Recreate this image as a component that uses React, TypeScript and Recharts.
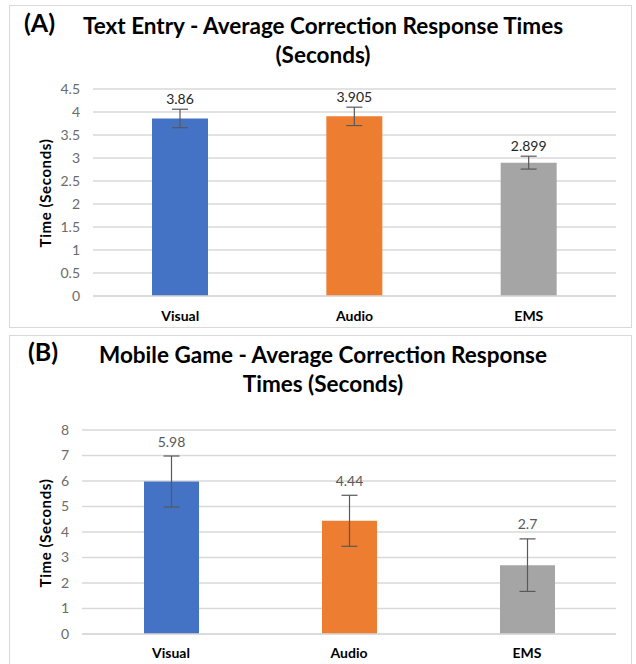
import { BarChart, Bar, XAxis, YAxis, CartesianGrid, Cell, ErrorBar, LabelList } from 'recharts';

const categories = ['Visual', 'Audio', 'EMS'];
const barColors = ['#4472C4', '#ED7D31', '#A5A5A5'];

const textEntryTimes = [3.86, 3.905, 2.899];
const textEntryErrors = [0.2, 0.2, 0.14];
const textEntryTicks = [0, 0.5, 1, 1.5, 2, 2.5, 3, 3.5, 4, 4.5];

const mobileGameTimes = [5.98, 4.44, 2.7];
const mobileGameErrors = [1.0, 1.0, 1.03];
const mobileGameTicks = [0, 1, 2, 3, 4, 5, 6, 7, 8];

const FONT = 'Lato, "Open Sans", sans-serif';

const textEntryData = categories.map((name, i) => ({ name, time: textEntryTimes[i], err: textEntryErrors[i] }));
const mobileGameData = categories.map((name, i) => ({ name, time: mobileGameTimes[i], err: mobileGameErrors[i] }));

// value label sits just above the error bar's top whisker
const makeLabel = (errors: number[], color: string, fontSize: number, gap: number) => (props: any) => {
  const { x, y, width, height, value, index } = props;
  const perUnit = height / value;
  const errTop = y - errors[index] * perUnit;
  return (
    <text x={x + width / 2} y={errTop - gap} textAnchor="middle" dominantBaseline="middle" fill={color} fontSize={fontSize} fontFamily={FONT}>
      {value}
    </text>
  );
};

type PanelProps = {
  top: number;
  height: number;
  data: { name: string; time: number; err: number }[];
  errors: number[];
  ticks: number[];
  domainMax: number;
  margin: { top: number; right: number; bottom: number; left: number };
  barSize: number;
  tag: string;
  tagLeft: number;
  titleLines: string[];
  titleTop: number;
  labelColor: string;
  labelGap: number;
  axisLabelY: number;
  tickMargin: number;
};

const Panel = (p: PanelProps) => (
  <div style={{ position: 'absolute', left: 0, top: p.top, width: 636, height: p.height }}>
    <div style={{ position: 'absolute', left: p.tagLeft, top: p.titleTop - 4, fontFamily: FONT, fontWeight: 700, fontSize: 25, color: '#000' }}>
      {p.tag}
    </div>
    <div style={{ position: 'absolute', left: 60, width: 526, top: p.titleTop, textAlign: 'center', fontFamily: FONT, fontWeight: 700, fontSize: 22.5, lineHeight: '29px', color: '#000' }}>
      {p.titleLines.map((t) => (
        <div key={t}>{t}</div>
      ))}
    </div>
    <div
      style={{
        position: 'absolute',
        left: 45,
        top: p.axisLabelY,
        transform: 'translate(-50%, -50%) rotate(-90deg)',
        whiteSpace: 'nowrap',
        fontFamily: FONT,
        fontWeight: 700,
        fontSize: 15,
        letterSpacing: 0.6,
        color: '#000',
      }}
    >
      Time (Seconds)
    </div>
    <div style={{ position: 'absolute', left: 0, top: 0 }}>
      <BarChart width={636} height={p.height} data={p.data} margin={p.margin} barSize={p.barSize}>
        <CartesianGrid vertical={false} stroke="#d9d9d9" strokeWidth={1.5} />
        <XAxis
          dataKey="name"
          tickLine={false}
          axisLine={{ stroke: '#d9d9d9', strokeWidth: 1.5 }}
          tickMargin={p.tickMargin}
          tick={{ fill: '#000', fontSize: 14, fontWeight: 700, fontFamily: FONT }}
          height={30}
        />
        <YAxis
          domain={[0, p.domainMax]}
          ticks={p.ticks}
          interval={0}
          width={50}
          axisLine={false}
          tickLine={false}
          tickMargin={7}
          tick={{ fill: '#6b6b6b', fontSize: 14, fontFamily: FONT }}
        />
        <Bar dataKey="time" isAnimationActive={false}>
          {p.data.map((d, i) => (
            <Cell key={d.name} fill={barColors[i]} />
          ))}
          <ErrorBar dataKey="err" width={8} stroke="#595959" strokeWidth={1.2} />
          <LabelList dataKey="time" content={makeLabel(p.errors, p.labelColor, 14, p.labelGap)} />
        </Bar>
      </BarChart>
    </div>
  </div>
);

export default function App() {
  return (
    <div style={{ position: 'relative', width: 636, height: 664, background: '#fff', overflow: 'hidden' }}>
      <style>{`body{margin:0}`}</style>
      <div style={{ position: 'absolute', left: 9, top: 5, width: 623, height: 323, border: '1px solid #d9d9d9', boxSizing: 'border-box' }} />
      <div style={{ position: 'absolute', left: 9, top: 335, width: 623, height: 340, border: '1px solid #d9d9d9', boxSizing: 'border-box' }} />
      <Panel
        top={0}
        height={330}
        data={textEntryData}
        errors={textEntryErrors}
        ticks={textEntryTicks}
        domainMax={4.5}
        margin={{ top: 89, right: 20, bottom: 4, left: 43 }}
        barSize={56}
        tag="(A)"
        tagLeft={24}
        titleLines={['Text Entry - Average Correction Response Times', '(Seconds)']}
        titleTop={11}
        labelColor="#262626"
        labelGap={9}
        axisLabelY={193}
        tickMargin={9}
      />
      <Panel
        top={330}
        height={334}
        data={mobileGameData}
        errors={mobileGameErrors}
        ticks={mobileGameTicks}
        domainMax={8}
        margin={{ top: 100, right: 20, bottom: 0, left: 32 }}
        barSize={55}
        tag="(B)"
        tagLeft={28}
        titleLines={['Mobile Game - Average Correction Response', 'Times (Seconds)']}
        titleTop={10}
        labelColor="#595959"
        labelGap={13}
        axisLabelY={203}
        tickMargin={8}
      />
    </div>
  );
}
